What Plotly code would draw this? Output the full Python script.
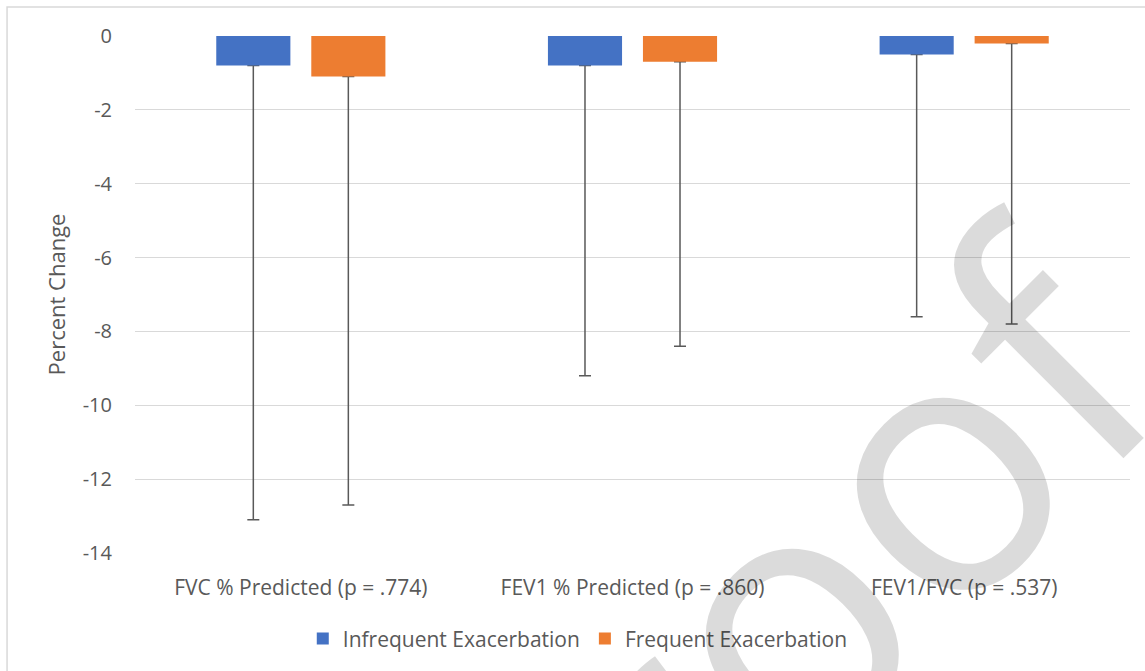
import plotly.graph_objects as go

# Spirometry outcomes by exacerbation group
categories = ["FVC % Predicted (p = .774)", "FEV1 % Predicted (p = .860)", "FEV1/FVC (p = .537)"]
infrequent_mean = [-0.8, -0.8, -0.5]
frequent_mean = [-1.1, -0.7, -0.2]
# lower end of each error bar (percent change)
infrequent_low = [-13.1, -9.2, -7.6]
frequent_low = [-12.7, -8.4, -7.8]

y_ticks = [0, -2, -4, -6, -8, -10, -12, -14]

BLUE = "#4472C4"
ORANGE = "#ED7D31"
ERR = "#595959"
TEXT = "#595959"
GRID = "#D9D9D9"
FONT = "Open Sans, Lato, sans-serif"


def minus_err(mean, low):
    return [m - l for m, l in zip(mean, low)]


fig = go.Figure()

# error bars drawn first (transparent bars), so the coloured bars cover their upper end
for name, mean, low, grp in [
    ("Infrequent Exacerbation", infrequent_mean, infrequent_low, "inf"),
    ("Frequent Exacerbation", frequent_mean, frequent_low, "frq"),
]:
    fig.add_trace(go.Bar(
        x=categories, y=mean, offsetgroup=grp, showlegend=False, hoverinfo="skip",
        marker=dict(color="rgba(0,0,0,0)", line=dict(width=0)),
        error_y=dict(type="data", symmetric=False, array=[0] * len(mean),
                     arrayminus=minus_err(mean, low), color=ERR, thickness=1.5, width=6),
    ))

fig.add_trace(go.Bar(x=categories, y=infrequent_mean, name="Infrequent Exacerbation",
                     offsetgroup="inf", marker=dict(color=BLUE, line=dict(width=0))))
fig.add_trace(go.Bar(x=categories, y=frequent_mean, name="Frequent Exacerbation",
                     offsetgroup="frq", marker=dict(color=ORANGE, line=dict(width=0))))

fig.update_layout(
    width=1145, height=671,
    margin=dict(l=135, r=15, t=36, b=118),
    paper_bgcolor="white", plot_bgcolor="white",
    barmode="group", bargap=0.427, bargroupgap=0.22,
    font=dict(family=FONT, color=TEXT, size=21),
    showlegend=True,
    legend=dict(orientation="h", x=0.445, xanchor="center", y=-0.166, yanchor="middle",
                font=dict(size=21, color=TEXT), traceorder="normal", itemwidth=30),
    xaxis=dict(showgrid=False, showline=False, zeroline=False, ticks="",
               ticklabelstandoff=20, tickfont=dict(size=21, color=TEXT)),
    yaxis=dict(range=[-14, 0], tickvals=y_ticks, ticktext=[str(v) for v in y_ticks],
               showgrid=True, gridcolor=GRID, gridwidth=1.3, zeroline=False,
               showline=False, ticks="", ticklabelstandoff=22,
               tickfont=dict(size=20, color=TEXT),
               title=dict(text="Percent Change", font=dict(size=22, color=TEXT), standoff=10)),
    shapes=[dict(type="rect", xref="paper", yref="paper", x0=-0.1286, y0=-0.6, x1=1.3, y1=1.056,
                 line=dict(color=GRID, width=1.5), fillcolor="rgba(0,0,0,0)", layer="below")],
    annotations=[dict(text="Proof", xref="paper", yref="paper", x=0.638, y=-0.125,
                      xanchor="center", yanchor="middle", showarrow=False, textangle=-45,
                      font=dict(family=FONT, size=355, color="rgba(0,0,0,0.14)"))],
)

fig.write_html("out.html")
